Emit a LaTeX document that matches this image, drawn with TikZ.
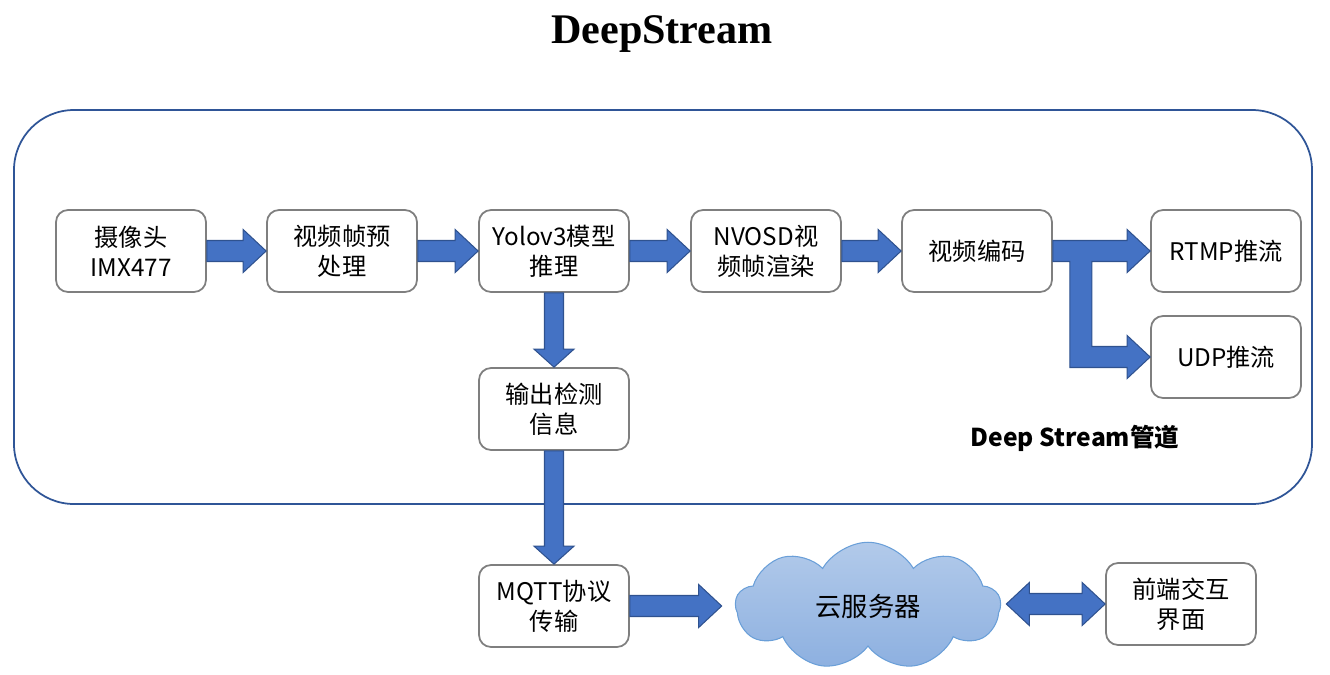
\documentclass[tikz,border=0pt]{standalone}
\usepackage{fontspec}
\setmainfont{Noto Sans CJK SC}
\newfontfamily\titlefont{Liberation Serif}
\usetikzlibrary{shapes.symbols, calc}

\definecolor{arrowblue}{HTML}{4472C4}
\definecolor{arrowedge}{HTML}{2F528F}
\definecolor{pipeedge}{HTML}{2F5597}
\definecolor{boxedge}{HTML}{7F7F7F}
\definecolor{cloudtop}{HTML}{B2CAEA}
\definecolor{cloudbot}{HTML}{8DB0E0}
\definecolor{cloudedge}{HTML}{6A9FD8}

\tikzset{
  stage/.style = {draw = boxedge, line width = 1pt, rounded corners = 0.24cm, fill = white,
    minimum width = 3cm, minimum height = 1.64cm, align = center, font = \fontsize{13.8}{17}\selectfont},
  blockarrow/.style = {fill = arrowblue, draw = arrowedge, line width = 0.6pt},
}

% horizontal block arrow, tip on #2
\newcommand{\harrow}[2]{%
  \path[blockarrow] let \p1 = (#1), \p2 = (#2) in
    (\x1, \y2 + 0.21cm) -- (\x2 - 0.46cm, \y2 + 0.21cm) -- (\x2 - 0.46cm, \y2 + 0.43cm)
    -- (\x2, \y2) -- (\x2 - 0.46cm, \y2 - 0.43cm) -- (\x2 - 0.46cm, \y2 - 0.21cm)
    -- (\x1, \y2 - 0.21cm) -- cycle;}
% vertical block arrow, pointing down to #2
\newcommand{\varrow}[2]{%
  \path[blockarrow] let \p1 = (#1), \p2 = (#2) in
    (\x1 - 0.19cm, \y1) -- (\x1 - 0.19cm, \y2 + 0.36cm) -- (\x1 - 0.4cm, \y2 + 0.36cm)
    -- (\x1, \y2) -- (\x1 + 0.4cm, \y2 + 0.36cm) -- (\x1 + 0.19cm, \y2 + 0.36cm)
    -- (\x1 + 0.19cm, \y1) -- cycle;}

\begin{document}
\begin{tikzpicture}[x = 0.02cm, y = -0.02cm]
  \useasboundingbox (0, 0) rectangle (1330, 674);

  \node[font = \titlefont\fontsize{24}{28}\selectfont\bfseries] (title) at (662, 34) {DeepStream};

  % pipeline frame
  \draw[draw = pipeedge, line width = 1pt, rounded corners = 1.2cm] (14, 110) rectangle (1312, 504);
  \node[font = \fontsize{14}{17}\selectfont\bfseries] (pipelabel) at (1075, 438) {Deep Stream管道};

  \node[stage] (cam)   at (131, 251)  {摄像头\\IMX477};
  \node[stage] (pre)   at (342, 251)  {视频帧预\\处理};
  \node[stage] (yolo)  at (554, 251)  {Yolov3模型\\推理};
  \node[stage] (osd)   at (766, 251)  {NVOSD视\\频帧渲染};
  \node[stage] (enc)   at (977, 251)  {视频编码};
  \node[stage] (rtmp)  at (1226, 251) {RTMP推流};
  \node[stage] (udp)   at (1226, 357) {UDP推流};
  \node[stage] (info)  at (554, 409)  {输出检测\\信息};
  \node[stage] (mqtt)  at (554, 606)  {MQTT协议\\传输};
  \node[stage] (front) at (1181, 604) {前端交互\\界面};

  \node[cloud, cloud puffs = 9, cloud puff arc = 120, aspect = 2, draw = cloudedge, line width = 0.6pt,
    top color = cloudtop, bottom color = cloudbot, minimum width = 5.3cm, minimum height = 2.55cm,
    font = \fontsize{15}{18}\selectfont] (cloud) at (868, 606) {云服务器};

  \harrow{cam.east}{pre.west}
  \harrow{pre.east}{yolo.west}
  \harrow{yolo.east}{osd.west}
  \harrow{osd.east}{enc.west}
  \varrow{yolo.south}{info.north}
  \varrow{info.south}{mqtt.north}
  \harrow{mqtt.east}{[xshift = -0.26cm]cloud.west |- mqtt.east}

  % split towards rtmp and udp
  \path[blockarrow] let \p1 = (enc.east), \p2 = (rtmp.west), \p3 = (udp.west) in
    (\x1, \y2 + 0.21cm) -- (\x2 - 0.46cm, \y2 + 0.21cm) -- (\x2 - 0.46cm, \y2 + 0.43cm)
    -- (\x2, \y2) -- (\x2 - 0.46cm, \y2 - 0.43cm) -- (\x2 - 0.46cm, \y2 - 0.21cm)
    -- (\x1 + 0.78cm, \y2 - 0.21cm) -- (\x1 + 0.78cm, \y3 + 0.21cm)
    -- (\x3 - 0.46cm, \y3 + 0.21cm) -- (\x3 - 0.46cm, \y3 + 0.43cm)
    -- (\x3, \y3) -- (\x3 - 0.46cm, \y3 - 0.43cm) -- (\x3 - 0.46cm, \y3 - 0.21cm)
    -- (\x1 + 0.34cm, \y3 - 0.21cm) -- (\x1 + 0.34cm, \y2 - 0.21cm) -- (\x1, \y2 - 0.21cm) -- cycle;

  % double arrow cloud <-> front
  \path[blockarrow] let \p1 = ([xshift = 0.1cm]cloud.east), \p2 = (front.west) in
    (\x1, \y2) -- (\x1 + 0.46cm, \y2 + 0.43cm) -- (\x1 + 0.46cm, \y2 + 0.21cm)
    -- (\x2 - 0.46cm, \y2 + 0.21cm) -- (\x2 - 0.46cm, \y2 + 0.43cm) -- (\x2, \y2)
    -- (\x2 - 0.46cm, \y2 - 0.43cm) -- (\x2 - 0.46cm, \y2 - 0.21cm)
    -- (\x1 + 0.46cm, \y2 - 0.21cm) -- (\x1 + 0.46cm, \y2 - 0.43cm) -- cycle;
\end{tikzpicture}
\end{document}
